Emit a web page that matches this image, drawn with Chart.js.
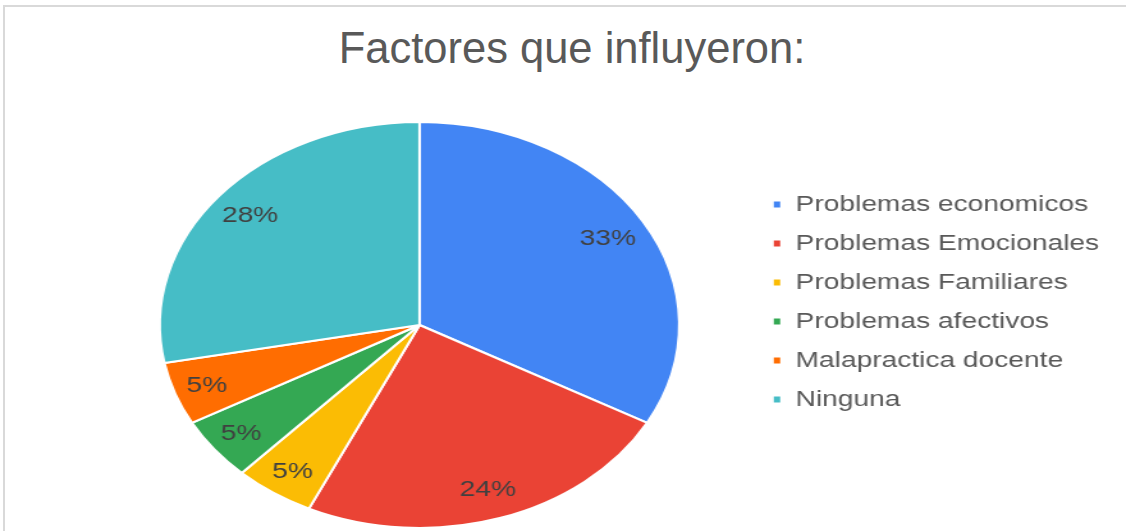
<!DOCTYPE html>
<html>
<head>
<meta charset="utf-8">
<script src="https://cdn.jsdelivr.net/npm/chart.js@4.4.1/dist/chart.umd.min.js"></script>
<style>
  html, body { margin: 0; padding: 0; background: #fff; }
  body { width: 1126px; height: 531px; position: relative; overflow: hidden; }
  .frame {
    position: absolute; left: 3px; top: 5px; width: 1200px; height: 600px;
    border-top: 2px solid #d9d9d9; border-left: 2px solid #d9d9d9;
  }
  .title {
    position: absolute; top: 27px; left: 572px; transform: translateX(-50%);
    font-family: "Liberation Sans", Arial, sans-serif; font-size: 43.5px; line-height: 43px;
    color: #595959; white-space: nowrap;
  }
  #chart {
    position: absolute; left: 0; top: 0;
    transform: scaleX(1.2795); transform-origin: 0 0;
  }
</style>
</head>
<body>
<div class="frame"></div>
<div class="title">Factores que influyeron:</div>
<canvas id="chart" width="880" height="531" style="width:880px;height:531px"></canvas>
<script>
// Data
const categories = [
  'Problemas economicos',
  'Problemas Emocionales',
  'Problemas Familiares',
  'Problemas afectivos',
  'Malapractica docente',
  'Ninguna'
];
const percentages = [33, 24, 5, 5, 5, 28];
const sliceColors = ['#4285F4', '#EA4335', '#FBBC04', '#34A853', '#FF6D01', '#46BDC6'];

// Shift the legend up a bit (it sits above the pie's vertical centre)
const legendShift = {
  id: 'legendShift',
  afterLayout(chart) {
    if (!chart.legend) return;
    chart.legend.top -= 23;
    chart.legend.bottom -= 23;
  }
};

// Percentage labels inside each slice (small slices get pushed a bit further out)
const sliceLabels = {
  id: 'sliceLabels',
  afterDatasetsDraw(chart) {
    const ctx = chart.ctx;
    const meta = chart.getDatasetMeta(0);
    const values = chart.data.datasets[0].data;
    const total = values.reduce((a, b) => a + b, 0);
    ctx.save();
    ctx.font = '22px "Liberation Sans", Arial, sans-serif';
    ctx.fillStyle = '#404040';
    ctx.textAlign = 'center';
    ctx.textBaseline = 'middle';
    meta.data.forEach((arc, i) => {
      const p = arc.getProps(['x', 'y', 'startAngle', 'endAngle', 'outerRadius'], true);
      const mid = (p.startAngle + p.endAngle) / 2;
      const share = values[i] / total;
      const r = p.outerRadius * (0.875 - 0.1 * share);
      const label = Math.round(share * 100) + '%';
      ctx.fillText(label, p.x + Math.cos(mid) * r, p.y + Math.sin(mid) * r + 1);
    });
    ctx.restore();
  }
};

new Chart(document.getElementById('chart'), {
  type: 'pie',
  data: {
    labels: categories,
    datasets: [{
      data: percentages,
      backgroundColor: sliceColors,
      borderColor: '#ffffff',
      borderWidth: 2
    }]
  },
  options: {
    responsive: false,
    animation: false,
    devicePixelRatio: 1,
    layout: { padding: { top: 121, bottom: 2, left: 69, right: 11 } },
    plugins: {
      title: { display: false },
      tooltip: { enabled: false },
      legend: {
        position: 'right',
        align: 'center',
        labels: {
          boxWidth: 7,
          boxHeight: 8,
          padding: 17,
          color: '#595959',
          font: { family: '"Liberation Sans", Arial, sans-serif', size: 22 }
        }
      }
    }
  },
  plugins: [legendShift, sliceLabels]
});
</script>
</body>
</html>
